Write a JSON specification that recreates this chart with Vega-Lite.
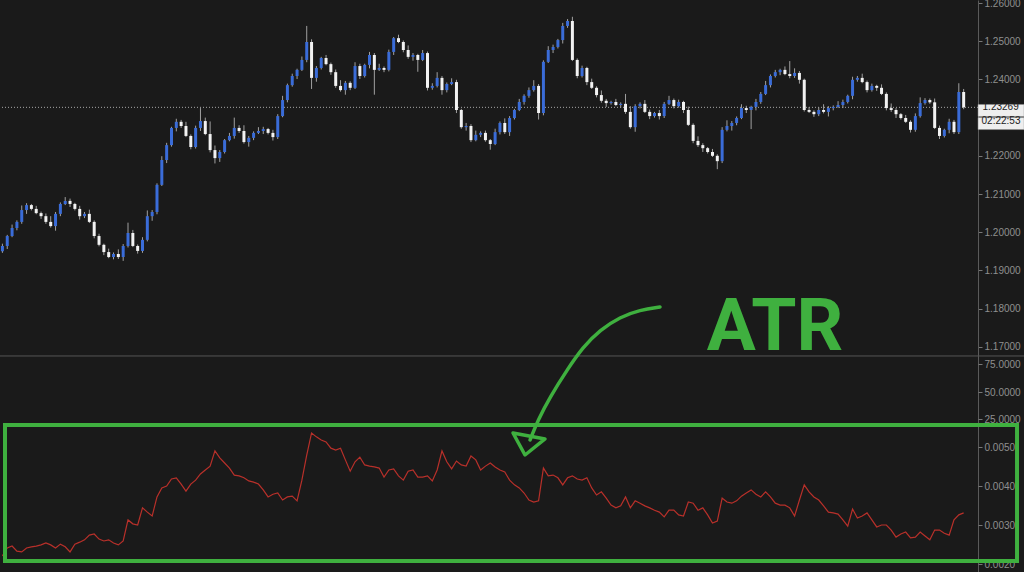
{
"$schema":"https://vega.github.io/schema/vega-lite/v6.json",
"width":978,"height":572,"padding":{"left":0,"top":0,"bottom":0,"right":46},"autosize":{"type":"none"},
"background":"#1a1a1a",
"config":{"view":{"stroke":null},"axis":{"grid":false}},
"datasets":{
"bars":[
{"i":0,"o":1.1950,"h":1.1970,"l":1.1946,"c":1.1964,"a":0.00221},
{"i":1,"o":1.1964,"h":1.1993,"l":1.1956,"c":1.1990,"a":0.00241},
{"i":2,"o":1.1990,"h":1.2020,"l":1.1987,"c":1.2011,"a":0.00246},
{"i":3,"o":1.2011,"h":1.2031,"l":1.2005,"c":1.2027,"a":0.00233},
{"i":4,"o":1.2027,"h":1.2070,"l":1.2022,"c":1.2058,"a":0.00231},
{"i":5,"o":1.2058,"h":1.2076,"l":1.2048,"c":1.2071,"a":0.00241},
{"i":6,"o":1.2071,"h":1.2074,"l":1.2057,"c":1.2061,"a":0.00244},
{"i":7,"o":1.2061,"h":1.2069,"l":1.2047,"c":1.2050,"a":0.00246},
{"i":8,"o":1.2050,"h":1.2054,"l":1.2035,"c":1.2042,"a":0.00249},
{"i":9,"o":1.2042,"h":1.2049,"l":1.2022,"c":1.2027,"a":0.00254},
{"i":10,"o":1.2027,"h":1.2042,"l":1.2012,"c":1.2016,"a":0.00249},
{"i":11,"o":1.2016,"h":1.2053,"l":1.2004,"c":1.2048,"a":0.00241},
{"i":12,"o":1.2048,"h":1.2078,"l":1.2042,"c":1.2074,"a":0.00251},
{"i":13,"o":1.2074,"h":1.2092,"l":1.2071,"c":1.2082,"a":0.00244},
{"i":14,"o":1.2082,"h":1.2088,"l":1.2066,"c":1.2074,"a":0.00231},
{"i":15,"o":1.2074,"h":1.2077,"l":1.2057,"c":1.2061,"a":0.00251},
{"i":16,"o":1.2061,"h":1.2069,"l":1.2033,"c":1.2042,"a":0.00256},
{"i":17,"o":1.2042,"h":1.2053,"l":1.2037,"c":1.2048,"a":0.00262},
{"i":18,"o":1.2048,"h":1.2059,"l":1.2024,"c":1.2027,"a":0.00274},
{"i":19,"o":1.2027,"h":1.2031,"l":1.1984,"c":1.1990,"a":0.00277},
{"i":20,"o":1.1990,"h":1.1996,"l":1.1963,"c":1.1967,"a":0.00264},
{"i":21,"o":1.1967,"h":1.1970,"l":1.1940,"c":1.1948,"a":0.00259},
{"i":22,"o":1.1948,"h":1.1957,"l":1.1932,"c":1.1935,"a":0.00262},
{"i":23,"o":1.1935,"h":1.1947,"l":1.1929,"c":1.1943,"a":0.00254},
{"i":24,"o":1.1943,"h":1.1955,"l":1.1930,"c":1.1935,"a":0.00249},
{"i":25,"o":1.1935,"h":1.1969,"l":1.1925,"c":1.1964,"a":0.00259},
{"i":26,"o":1.1964,"h":1.2025,"l":1.1960,"c":1.1998,"a":0.00313},
{"i":27,"o":1.1998,"h":1.2006,"l":1.1961,"c":1.1964,"a":0.00303},
{"i":28,"o":1.1964,"h":1.1968,"l":1.1944,"c":1.1951,"a":0.00300},
{"i":29,"o":1.1951,"h":1.1987,"l":1.1946,"c":1.1980,"a":0.00344},
{"i":30,"o":1.1980,"h":1.2057,"l":1.1976,"c":1.2042,"a":0.00333},
{"i":31,"o":1.2042,"h":1.2058,"l":1.2030,"c":1.2053,"a":0.00323},
{"i":32,"o":1.2053,"h":1.2128,"l":1.2047,"c":1.2124,"a":0.00372},
{"i":33,"o":1.2124,"h":1.2199,"l":1.2121,"c":1.2189,"a":0.00395},
{"i":34,"o":1.2189,"h":1.2234,"l":1.2181,"c":1.2228,"a":0.00400},
{"i":35,"o":1.2228,"h":1.2276,"l":1.2224,"c":1.2273,"a":0.00418},
{"i":36,"o":1.2273,"h":1.2297,"l":1.2264,"c":1.2289,"a":0.00421},
{"i":37,"o":1.2289,"h":1.2294,"l":1.2273,"c":1.2278,"a":0.00405},
{"i":38,"o":1.2278,"h":1.2289,"l":1.2249,"c":1.2252,"a":0.00387},
{"i":39,"o":1.2252,"h":1.2256,"l":1.2217,"c":1.2223,"a":0.00405},
{"i":40,"o":1.2223,"h":1.2279,"l":1.2219,"c":1.2273,"a":0.00415},
{"i":41,"o":1.2273,"h":1.2325,"l":1.2265,"c":1.2291,"a":0.00431},
{"i":42,"o":1.2291,"h":1.2300,"l":1.2254,"c":1.2257,"a":0.00441},
{"i":43,"o":1.2257,"h":1.2290,"l":1.2209,"c":1.2215,"a":0.00451},
{"i":44,"o":1.2215,"h":1.2227,"l":1.2180,"c":1.2194,"a":0.00490},
{"i":45,"o":1.2194,"h":1.2215,"l":1.2184,"c":1.2210,"a":0.00472},
{"i":46,"o":1.2210,"h":1.2244,"l":1.2206,"c":1.2241,"a":0.00459},
{"i":47,"o":1.2241,"h":1.2260,"l":1.2238,"c":1.2252,"a":0.00446},
{"i":48,"o":1.2252,"h":1.2300,"l":1.2245,"c":1.2273,"a":0.00428},
{"i":49,"o":1.2273,"h":1.2280,"l":1.2260,"c":1.2265,"a":0.00426},
{"i":50,"o":1.2265,"h":1.2280,"l":1.2232,"c":1.2236,"a":0.00421},
{"i":51,"o":1.2236,"h":1.2252,"l":1.2224,"c":1.2247,"a":0.00413},
{"i":52,"o":1.2247,"h":1.2264,"l":1.2241,"c":1.2260,"a":0.00410},
{"i":53,"o":1.2260,"h":1.2275,"l":1.2257,"c":1.2265,"a":0.00405},
{"i":54,"o":1.2265,"h":1.2276,"l":1.2257,"c":1.2270,"a":0.00390},
{"i":55,"o":1.2270,"h":1.2273,"l":1.2256,"c":1.2260,"a":0.00372},
{"i":56,"o":1.2260,"h":1.2268,"l":1.2240,"c":1.2249,"a":0.00379},
{"i":57,"o":1.2249,"h":1.2309,"l":1.2244,"c":1.2304,"a":0.00382},
{"i":58,"o":1.2304,"h":1.2357,"l":1.2301,"c":1.2346,"a":0.00364},
{"i":59,"o":1.2346,"h":1.2389,"l":1.2340,"c":1.2385,"a":0.00372},
{"i":60,"o":1.2385,"h":1.2415,"l":1.2381,"c":1.2409,"a":0.00374},
{"i":61,"o":1.2409,"h":1.2428,"l":1.2401,"c":1.2425,"a":0.00362},
{"i":62,"o":1.2425,"h":1.2460,"l":1.2422,"c":1.2451,"a":0.00415},
{"i":63,"o":1.2451,"h":1.2540,"l":1.2445,"c":1.2498,"a":0.00479},
{"i":64,"o":1.2498,"h":1.2505,"l":1.2375,"c":1.2404,"a":0.00536},
{"i":65,"o":1.2404,"h":1.2435,"l":1.2394,"c":1.2430,"a":0.00526},
{"i":66,"o":1.2430,"h":1.2459,"l":1.2426,"c":1.2456,"a":0.00518},
{"i":67,"o":1.2456,"h":1.2464,"l":1.2437,"c":1.2440,"a":0.00513},
{"i":68,"o":1.2440,"h":1.2444,"l":1.2412,"c":1.2419,"a":0.00497},
{"i":69,"o":1.2419,"h":1.2426,"l":1.2378,"c":1.2383,"a":0.00492},
{"i":70,"o":1.2383,"h":1.2398,"l":1.2368,"c":1.2372,"a":0.00497},
{"i":71,"o":1.2372,"h":1.2396,"l":1.2360,"c":1.2391,"a":0.00467},
{"i":72,"o":1.2391,"h":1.2395,"l":1.2372,"c":1.2378,"a":0.00438},
{"i":73,"o":1.2378,"h":1.2445,"l":1.2375,"c":1.2435,"a":0.00462},
{"i":74,"o":1.2435,"h":1.2441,"l":1.2401,"c":1.2409,"a":0.00474},
{"i":75,"o":1.2409,"h":1.2441,"l":1.2405,"c":1.2438,"a":0.00454},
{"i":76,"o":1.2438,"h":1.2472,"l":1.2429,"c":1.2464,"a":0.00451},
{"i":77,"o":1.2464,"h":1.2469,"l":1.2360,"c":1.2425,"a":0.00449},
{"i":78,"o":1.2425,"h":1.2441,"l":1.2422,"c":1.2430,"a":0.00446},
{"i":79,"o":1.2430,"h":1.2434,"l":1.2419,"c":1.2425,"a":0.00423},
{"i":80,"o":1.2425,"h":1.2478,"l":1.2421,"c":1.2472,"a":0.00441},
{"i":81,"o":1.2472,"h":1.2511,"l":1.2464,"c":1.2508,"a":0.00444},
{"i":82,"o":1.2508,"h":1.2517,"l":1.2495,"c":1.2498,"a":0.00426},
{"i":83,"o":1.2498,"h":1.2502,"l":1.2471,"c":1.2477,"a":0.00415},
{"i":84,"o":1.2477,"h":1.2489,"l":1.2454,"c":1.2459,"a":0.00438},
{"i":85,"o":1.2459,"h":1.2469,"l":1.2449,"c":1.2464,"a":0.00441},
{"i":86,"o":1.2464,"h":1.2467,"l":1.2420,"c":1.2451,"a":0.00423},
{"i":87,"o":1.2451,"h":1.2477,"l":1.2448,"c":1.2469,"a":0.00423},
{"i":88,"o":1.2469,"h":1.2473,"l":1.2371,"c":1.2378,"a":0.00426},
{"i":89,"o":1.2378,"h":1.2390,"l":1.2373,"c":1.2383,"a":0.00413},
{"i":90,"o":1.2383,"h":1.2419,"l":1.2379,"c":1.2404,"a":0.00441},
{"i":91,"o":1.2404,"h":1.2409,"l":1.2360,"c":1.2372,"a":0.00490},
{"i":92,"o":1.2372,"h":1.2392,"l":1.2366,"c":1.2388,"a":0.00462},
{"i":93,"o":1.2388,"h":1.2403,"l":1.2385,"c":1.2393,"a":0.00444},
{"i":94,"o":1.2393,"h":1.2399,"l":1.2312,"c":1.2320,"a":0.00464},
{"i":95,"o":1.2320,"h":1.2323,"l":1.2271,"c":1.2275,"a":0.00454},
{"i":96,"o":1.2275,"h":1.2286,"l":1.2266,"c":1.2278,"a":0.00451},
{"i":97,"o":1.2278,"h":1.2283,"l":1.2236,"c":1.2241,"a":0.00477},
{"i":98,"o":1.2241,"h":1.2266,"l":1.2238,"c":1.2255,"a":0.00467},
{"i":99,"o":1.2255,"h":1.2264,"l":1.2249,"c":1.2260,"a":0.00441},
{"i":100,"o":1.2260,"h":1.2266,"l":1.2237,"c":1.2241,"a":0.00451},
{"i":101,"o":1.2241,"h":1.2244,"l":1.2216,"c":1.2231,"a":0.00459},
{"i":102,"o":1.2231,"h":1.2271,"l":1.2228,"c":1.2262,"a":0.00449},
{"i":103,"o":1.2262,"h":1.2290,"l":1.2256,"c":1.2286,"a":0.00441},
{"i":104,"o":1.2286,"h":1.2298,"l":1.2257,"c":1.2262,"a":0.00436},
{"i":105,"o":1.2262,"h":1.2304,"l":1.2252,"c":1.2299,"a":0.00415},
{"i":106,"o":1.2299,"h":1.2323,"l":1.2295,"c":1.2320,"a":0.00403},
{"i":107,"o":1.2320,"h":1.2349,"l":1.2317,"c":1.2341,"a":0.00395},
{"i":108,"o":1.2341,"h":1.2361,"l":1.2334,"c":1.2357,"a":0.00382},
{"i":109,"o":1.2357,"h":1.2379,"l":1.2352,"c":1.2372,"a":0.00364},
{"i":110,"o":1.2372,"h":1.2398,"l":1.2368,"c":1.2383,"a":0.00359},
{"i":111,"o":1.2383,"h":1.2388,"l":1.2295,"c":1.2312,"a":0.00362},
{"i":112,"o":1.2312,"h":1.2450,"l":1.2306,"c":1.2446,"a":0.00446},
{"i":113,"o":1.2446,"h":1.2487,"l":1.2443,"c":1.2477,"a":0.00426},
{"i":114,"o":1.2477,"h":1.2491,"l":1.2469,"c":1.2485,"a":0.00428},
{"i":115,"o":1.2485,"h":1.2506,"l":1.2481,"c":1.2503,"a":0.00421},
{"i":116,"o":1.2503,"h":1.2548,"l":1.2494,"c":1.2540,"a":0.00403},
{"i":117,"o":1.2540,"h":1.2558,"l":1.2535,"c":1.2553,"a":0.00421},
{"i":118,"o":1.2553,"h":1.2564,"l":1.2448,"c":1.2451,"a":0.00426},
{"i":119,"o":1.2451,"h":1.2455,"l":1.2403,"c":1.2409,"a":0.00418},
{"i":120,"o":1.2409,"h":1.2436,"l":1.2405,"c":1.2430,"a":0.00415},
{"i":121,"o":1.2430,"h":1.2433,"l":1.2385,"c":1.2393,"a":0.00421},
{"i":122,"o":1.2393,"h":1.2402,"l":1.2375,"c":1.2378,"a":0.00395},
{"i":123,"o":1.2378,"h":1.2382,"l":1.2353,"c":1.2359,"a":0.00377},
{"i":124,"o":1.2359,"h":1.2371,"l":1.2339,"c":1.2344,"a":0.00385},
{"i":125,"o":1.2344,"h":1.2349,"l":1.2328,"c":1.2338,"a":0.00369},
{"i":126,"o":1.2338,"h":1.2344,"l":1.2334,"c":1.2341,"a":0.00351},
{"i":127,"o":1.2341,"h":1.2349,"l":1.2330,"c":1.2333,"a":0.00344},
{"i":128,"o":1.2333,"h":1.2340,"l":1.2326,"c":1.2336,"a":0.00349},
{"i":129,"o":1.2336,"h":1.2362,"l":1.2310,"c":1.2315,"a":0.00372},
{"i":130,"o":1.2315,"h":1.2330,"l":1.2271,"c":1.2275,"a":0.00344},
{"i":131,"o":1.2275,"h":1.2335,"l":1.2263,"c":1.2330,"a":0.00362},
{"i":132,"o":1.2330,"h":1.2340,"l":1.2324,"c":1.2336,"a":0.00356},
{"i":133,"o":1.2336,"h":1.2346,"l":1.2312,"c":1.2315,"a":0.00349},
{"i":134,"o":1.2315,"h":1.2321,"l":1.2296,"c":1.2304,"a":0.00344},
{"i":135,"o":1.2304,"h":1.2315,"l":1.2300,"c":1.2312,"a":0.00338},
{"i":136,"o":1.2312,"h":1.2320,"l":1.2295,"c":1.2304,"a":0.00333},
{"i":137,"o":1.2304,"h":1.2341,"l":1.2299,"c":1.2336,"a":0.00321},
{"i":138,"o":1.2336,"h":1.2357,"l":1.2333,"c":1.2346,"a":0.00338},
{"i":139,"o":1.2346,"h":1.2350,"l":1.2324,"c":1.2330,"a":0.00338},
{"i":140,"o":1.2330,"h":1.2347,"l":1.2326,"c":1.2341,"a":0.00326},
{"i":141,"o":1.2341,"h":1.2344,"l":1.2312,"c":1.2320,"a":0.00323},
{"i":142,"o":1.2320,"h":1.2329,"l":1.2278,"c":1.2281,"a":0.00359},
{"i":143,"o":1.2281,"h":1.2285,"l":1.2233,"c":1.2239,"a":0.00356},
{"i":144,"o":1.2239,"h":1.2251,"l":1.2223,"c":1.2228,"a":0.00338},
{"i":145,"o":1.2228,"h":1.2233,"l":1.2210,"c":1.2220,"a":0.00344},
{"i":146,"o":1.2220,"h":1.2223,"l":1.2206,"c":1.2210,"a":0.00326},
{"i":147,"o":1.2210,"h":1.2218,"l":1.2197,"c":1.2200,"a":0.00305},
{"i":148,"o":1.2200,"h":1.2204,"l":1.2165,"c":1.2186,"a":0.00310},
{"i":149,"o":1.2186,"h":1.2275,"l":1.2181,"c":1.2268,"a":0.00369},
{"i":150,"o":1.2268,"h":1.2293,"l":1.2264,"c":1.2278,"a":0.00359},
{"i":151,"o":1.2278,"h":1.2291,"l":1.2266,"c":1.2286,"a":0.00356},
{"i":152,"o":1.2286,"h":1.2303,"l":1.2280,"c":1.2299,"a":0.00362},
{"i":153,"o":1.2299,"h":1.2335,"l":1.2296,"c":1.2325,"a":0.00374},
{"i":154,"o":1.2325,"h":1.2331,"l":1.2312,"c":1.2320,"a":0.00382},
{"i":155,"o":1.2320,"h":1.2331,"l":1.2270,"c":1.2328,"a":0.00390},
{"i":156,"o":1.2328,"h":1.2349,"l":1.2319,"c":1.2341,"a":0.00379},
{"i":157,"o":1.2341,"h":1.2367,"l":1.2336,"c":1.2362,"a":0.00372},
{"i":158,"o":1.2362,"h":1.2396,"l":1.2359,"c":1.2385,"a":0.00385},
{"i":159,"o":1.2385,"h":1.2413,"l":1.2379,"c":1.2409,"a":0.00372},
{"i":160,"o":1.2409,"h":1.2425,"l":1.2405,"c":1.2419,"a":0.00356},
{"i":161,"o":1.2419,"h":1.2428,"l":1.2411,"c":1.2425,"a":0.00351},
{"i":162,"o":1.2425,"h":1.2434,"l":1.2411,"c":1.2414,"a":0.00351},
{"i":163,"o":1.2414,"h":1.2448,"l":1.2403,"c":1.2409,"a":0.00344},
{"i":164,"o":1.2409,"h":1.2429,"l":1.2404,"c":1.2417,"a":0.00323},
{"i":165,"o":1.2417,"h":1.2422,"l":1.2389,"c":1.2399,"a":0.00364},
{"i":166,"o":1.2399,"h":1.2402,"l":1.2316,"c":1.2320,"a":0.00403},
{"i":167,"o":1.2320,"h":1.2328,"l":1.2312,"c":1.2315,"a":0.00385},
{"i":168,"o":1.2315,"h":1.2319,"l":1.2302,"c":1.2309,"a":0.00372},
{"i":169,"o":1.2309,"h":1.2327,"l":1.2304,"c":1.2320,"a":0.00364},
{"i":170,"o":1.2320,"h":1.2335,"l":1.2311,"c":1.2315,"a":0.00349},
{"i":171,"o":1.2315,"h":1.2330,"l":1.2303,"c":1.2325,"a":0.00333},
{"i":172,"o":1.2325,"h":1.2332,"l":1.2319,"c":1.2328,"a":0.00331},
{"i":173,"o":1.2328,"h":1.2343,"l":1.2325,"c":1.2333,"a":0.00328},
{"i":174,"o":1.2333,"h":1.2347,"l":1.2325,"c":1.2341,"a":0.00313},
{"i":175,"o":1.2341,"h":1.2360,"l":1.2337,"c":1.2357,"a":0.00297},
{"i":176,"o":1.2357,"h":1.2407,"l":1.2348,"c":1.2399,"a":0.00341},
{"i":177,"o":1.2399,"h":1.2409,"l":1.2394,"c":1.2404,"a":0.00318},
{"i":178,"o":1.2404,"h":1.2415,"l":1.2390,"c":1.2393,"a":0.00323},
{"i":179,"o":1.2393,"h":1.2397,"l":1.2366,"c":1.2372,"a":0.00331},
{"i":180,"o":1.2372,"h":1.2389,"l":1.2368,"c":1.2383,"a":0.00313},
{"i":181,"o":1.2383,"h":1.2386,"l":1.2370,"c":1.2378,"a":0.00295},
{"i":182,"o":1.2378,"h":1.2387,"l":1.2359,"c":1.2362,"a":0.00300},
{"i":183,"o":1.2362,"h":1.2366,"l":1.2319,"c":1.2325,"a":0.00300},
{"i":184,"o":1.2325,"h":1.2337,"l":1.2315,"c":1.2320,"a":0.00287},
{"i":185,"o":1.2320,"h":1.2325,"l":1.2299,"c":1.2309,"a":0.00269},
{"i":186,"o":1.2309,"h":1.2312,"l":1.2295,"c":1.2299,"a":0.00277},
{"i":187,"o":1.2299,"h":1.2307,"l":1.2286,"c":1.2289,"a":0.00282},
{"i":188,"o":1.2289,"h":1.2293,"l":1.2261,"c":1.2268,"a":0.00267},
{"i":189,"o":1.2268,"h":1.2311,"l":1.2263,"c":1.2304,"a":0.00269},
{"i":190,"o":1.2304,"h":1.2353,"l":1.2300,"c":1.2338,"a":0.00282},
{"i":191,"o":1.2338,"h":1.2351,"l":1.2334,"c":1.2346,"a":0.00272},
{"i":192,"o":1.2346,"h":1.2350,"l":1.2336,"c":1.2340,"a":0.00262},
{"i":193,"o":1.2340,"h":1.2350,"l":1.2270,"c":1.2273,"a":0.00287},
{"i":194,"o":1.2273,"h":1.2279,"l":1.2244,"c":1.2252,"a":0.00287},
{"i":195,"o":1.2252,"h":1.2271,"l":1.2248,"c":1.2268,"a":0.00279},
{"i":196,"o":1.2268,"h":1.2297,"l":1.2259,"c":1.2289,"a":0.00274},
{"i":197,"o":1.2289,"h":1.2294,"l":1.2257,"c":1.2262,"a":0.00313},
{"i":198,"o":1.2262,"h":1.2390,"l":1.2257,"c":1.2367,"a":0.00326},
{"i":199,"o":1.2367,"h":1.2375,"l":1.2322,"c":1.23269,"a":0.00331}
],
"shaft":[
{"k":0,"x":136.14,"y":0.00859},
{"k":1,"x":132.0,"y":0.008513},
{"k":2,"x":127.86,"y":0.008334},
{"k":3,"x":123.72,"y":0.008},
{"k":4,"x":120.2,"y":0.007565},
{"k":5,"x":116.89,"y":0.006975},
{"k":6,"x":113.37,"y":0.006283},
{"k":7,"x":110.88,"y":0.005693},
{"k":8,"x":109.23,"y":0.00518}
],
"head":[
{"k":0,"x":105.71,"y":0.005359},
{"k":1,"x":112.33,"y":0.005206},
{"k":2,"x":108.19,"y":0.004795},
{"k":3,"x":105.71,"y":0.005359}
],
"tag":[{"price":1.23269,"timer":"02:22:53"}],
"one":[{"n":1}]
},
"layer":[
{"data":{"name":"one"},
 "mark":{"type":"rule","color":"#555555","strokeWidth":1},
 "encoding":{
  "x":{"datum":-0.5,"type":"quantitative","scale":{"domain":[-0.5,201.97],"nice":false,"zero":false,"padding":0},"axis":null},
  "x2":{"datum":211.5},
  "y":{"datum":1.1676,"type":"quantitative","scale":{"domain":[1.11105,1.26079],"nice":false,"zero":false},"axis":null}}},
{"data":{"name":"tag"},
 "mark":{"type":"rule","color":"#a8a8a8","strokeWidth":1,"strokeDash":[1,2]},
 "encoding":{"y":{"field":"price","type":"quantitative","scale":{"domain":[1.11105,1.26079],"nice":false,"zero":false},"axis":null}}},
{"data":{"name":"bars"},
 "mark":{"type":"rule","color":"#a0a0a0","strokeWidth":1},
 "encoding":{
  "x":{"field":"i","type":"quantitative","scale":{"domain":[-0.5,201.97],"nice":false,"zero":false,"padding":0},"axis":null},
  "y":{"field":"l","type":"quantitative","scale":{"domain":[1.11105,1.26079],"nice":false,"zero":false},
   "axis":{"orient":"right","title":null,"values":[1.17,1.18,1.19,1.2,1.21,1.22,1.24,1.25,1.26],"format":".5f","domainColor":"#5a5a5a","tickColor":"#777777","tickSize":4,"labelColor":"#8f8f8f","labelFont":"Liberation Sans","labelFontSize":10,"labelPadding":2,"labelOverlap":false,"labelFlush":false,"labelBound":false}},
  "y2":{"field":"h"}}},
{"data":{"name":"bars"},
 "mark":{"type":"bar","size":3},
 "encoding":{
  "x":{"field":"i","type":"quantitative","scale":{"domain":[-0.5,201.97],"nice":false,"zero":false,"padding":0},"axis":null},
  "y":{"field":"o","type":"quantitative","scale":{"domain":[1.11105,1.26079],"nice":false,"zero":false},"axis":null},
  "y2":{"field":"c"},
  "color":{"condition":{"test":"datum.c > datum.o","value":"#3a6cd8"},"value":"#f2f2f2"}}},
{"data":{"name":"tag"},
 "mark":{"type":"bar","size":12,"color":"#eeeeee","stroke":"#999999","strokeWidth":0.5},
 "encoding":{
  "x":{"datum":201.98,"type":"quantitative","scale":{"domain":[-0.5,201.97],"nice":false,"zero":false,"padding":0},"axis":null},
  "x2":{"datum":211.5},
  "y":{"field":"price","type":"quantitative","scale":{"domain":[1.11105,1.26079],"nice":false,"zero":false},"axis":null}}},
{"data":{"name":"tag"},
 "mark":{"type":"bar","size":12,"color":"#eeeeee","stroke":"#999999","strokeWidth":0.5},
 "encoding":{
  "x":{"datum":201.98,"type":"quantitative","scale":{"domain":[-0.5,201.97],"nice":false,"zero":false,"padding":0},"axis":null},
  "x2":{"datum":211.5},
  "y":{"datum":1.2292,"type":"quantitative","scale":{"domain":[1.11105,1.26079],"nice":false,"zero":false},"axis":null}}},
{"data":{"name":"tag"},
 "mark":{"type":"text","align":"left","baseline":"middle","dx":2,"font":"Liberation Sans","fontSize":10,"color":"#222222"},
 "encoding":{
  "x":{"datum":202.5,"type":"quantitative","scale":{"domain":[-0.5,201.97],"nice":false,"zero":false,"padding":0},"axis":null},
  "y":{"field":"price","type":"quantitative","scale":{"domain":[1.11105,1.26079],"nice":false,"zero":false},"axis":null},
  "text":{"field":"price","type":"quantitative","format":".5f"}}},
{"data":{"name":"tag"},
 "mark":{"type":"text","align":"left","baseline":"middle","dx":1,"font":"Liberation Sans","fontSize":10,"color":"#222222"},
 "encoding":{
  "x":{"datum":202.5,"type":"quantitative","scale":{"domain":[-0.5,201.97],"nice":false,"zero":false,"padding":0},"axis":null},
  "y":{"datum":1.2292,"type":"quantitative","scale":{"domain":[1.11105,1.26079],"nice":false,"zero":false},"axis":null},
  "text":{"field":"timer"}}},
{"data":{"name":"bars"},
 "mark":{"type":"line","color":"#b8302a","strokeWidth":1.2},
 "encoding":{
  "x":{"field":"i","type":"quantitative","scale":{"domain":[-0.5,201.97],"nice":false,"zero":false,"padding":0},"axis":null},
  "y":{"field":"a","type":"quantitative","scale":{"domain":[0.001795,0.016462],"nice":false,"zero":false},
   "axis":{"orient":"right","title":null,"domain":false,"values":[0.002,0.003,0.004,0.005,0.005718,0.00641,0.007128],
    "labelExpr":"datum.value > 0.007 ? '75.0000' : datum.value > 0.006 ? '50.0000' : datum.value > 0.0055 ? '25.0000' : format(datum.value, '.4f')",
    "tickColor":"#777777","tickSize":4,"labelColor":"#8f8f8f","labelFont":"Liberation Sans","labelFontSize":10,"labelPadding":2,"labelOverlap":false,"labelFlush":false,"labelBound":false}}}},
{"data":{"name":"one"},
 "mark":{"type":"rect","fill":null,"fillOpacity":0,"stroke":"#3fb03f","strokeWidth":4},
 "encoding":{
  "x":{"datum":0.535,"type":"quantitative","scale":{"domain":[-0.5,201.97],"nice":false,"zero":false,"padding":0},"axis":null},
  "x2":{"datum":210.05},
  "y":{"datum":0.005565,"type":"quantitative","scale":{"domain":[0.001795,0.016462],"nice":false,"zero":false},"axis":null},
  "y2":{"datum":0.002077}}},
{"data":{"name":"shaft"},
 "mark":{"type":"line","color":"#3fb03f","strokeWidth":3.5,"strokeCap":"round","interpolate":"basis"},
 "encoding":{
  "x":{"field":"x","type":"quantitative","scale":{"domain":[-0.5,201.97],"nice":false,"zero":false,"padding":0},"axis":null},
  "y":{"field":"y","type":"quantitative","scale":{"domain":[0.001795,0.016462],"nice":false,"zero":false},"axis":null},
  "order":{"field":"k"}}},
{"data":{"name":"head"},
 "mark":{"type":"line","color":"#3fb03f","strokeWidth":3.5,"strokeCap":"round","strokeJoin":"round"},
 "encoding":{
  "x":{"field":"x","type":"quantitative","scale":{"domain":[-0.5,201.97],"nice":false,"zero":false,"padding":0},"axis":null},
  "y":{"field":"y","type":"quantitative","scale":{"domain":[0.001795,0.016462],"nice":false,"zero":false},"axis":null},
  "order":{"field":"k"}}},
{"data":{"name":"one"},
 "mark":{"type":"text","text":"ATR","font":"Roboto","fontWeight":"bold","fontSize":73,"color":"#3fb03f","align":"center","baseline":"alphabetic"},
 "encoding":{
  "x":{"datum":159.95,"type":"quantitative","scale":{"domain":[-0.5,201.97],"nice":false,"zero":false,"padding":0},"axis":null},
  "y":{"datum":0.007488,"type":"quantitative","scale":{"domain":[0.001795,0.016462],"nice":false,"zero":false},"axis":null}}}
],
"resolve":{"scale":{"y":"independent"}}
}
